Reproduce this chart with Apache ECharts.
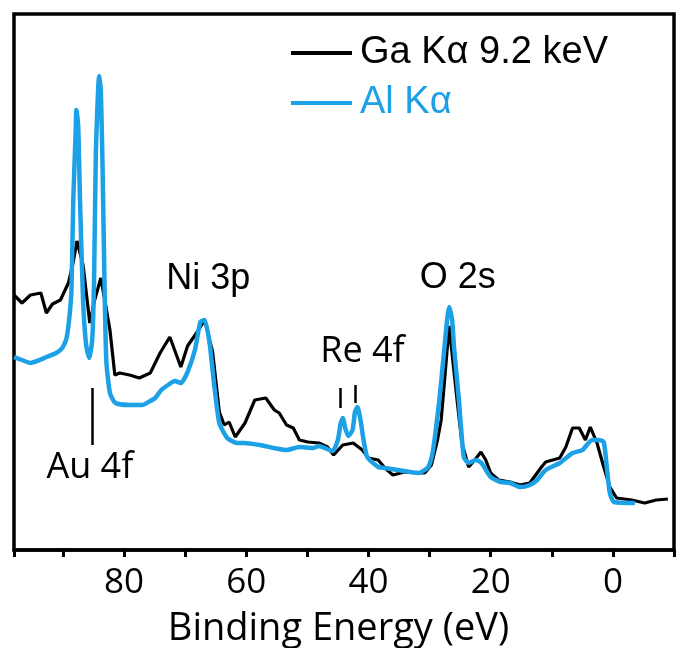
<!DOCTYPE html>
<html>
<head>
<meta charset="utf-8">
<script src="https://cdn.jsdelivr.net/npm/echarts@6/dist/echarts.min.js"></script>
<style>
html,body{margin:0;padding:0;background:#fff;}
#chart{width:677px;height:648px;}
</style>
</head>
<body>
<div id="chart"></div>
<script>
// Binding energy (eV) / intensity (a.u.) for Ga Kα 9.2 keV
const gaEnergy = [98.0,96.7,95.3,93.6,92.7,91.7,90.4,89.1,88.3,87.7,86.7,85.6,84.8,83.8,83.0,82.3,81.5,80.7,79.1,77.5,75.7,74.1,72.5,70.7,69.6,67.8,66.8,65.5,64.4,63.6,62.8,61.8,60.2,58.6,56.8,55.4,54.6,53.4,52.3,51.3,49.9,48.1,46.7,45.7,44.2,42.5,41.0,40.0,38.4,37.3,36.0,34.1,30.8,29.7,28.7,28.1,27.4,26.8,26.2,25.5,24.7,23.6,22.6,21.6,20.8,20.0,18.7,16.8,15.2,13.6,11.8,11.0,8.7,7.7,6.6,5.5,4.5,3.7,2.6,1.5,0.5,-0.6,-3.1,-5.2,-7.1,-9.0];
const gaIntensity = [255,247,255,257,237,246,250,267,288,309,285,227,250,272,245,220,175,177,175,172,177,197,213,183,204,220,230,198,138,125,128,113,127,150,152,140,137,125,122,110,108,107,103,95,105,107,100,92,90,82,75,78,77,85,110,130,180,224,190,150,107,83,90,98,90,77,70,68,65,67,82,88,92,103,122,122,110,123,107,83,63,52,50,47,50,51];

// Binding energy (eV) / intensity (a.u.) for Al Kα
const alEnergy = [98.0,96.7,95.3,93.8,92.7,91.1,90.1,89.4,88.9,88.6,88.3,87.9,87.8,87.5,87.2,86.7,86.2,85.7,85.2,84.9,84.6,84.2,84.1,83.8,83.5,83.2,82.9,82.3,81.4,79.1,77.0,76.0,74.9,73.9,72.8,71.7,70.7,69.6,68.4,67.5,66.8,66.0,65.2,64.4,63.1,61.5,60.4,57.8,55.5,53.4,51.3,49.1,48.1,45.9,45.0,44.6,44.2,43.8,43.3,42.6,42.2,41.8,41.3,40.8,40.2,38.4,37.3,35.2,31.8,30.2,29.5,28.4,27.6,27.1,26.8,26.3,26.0,25.2,24.4,23.6,22.4,21.5,20.0,18.4,16.8,15.2,13.6,12.4,11.0,8.7,6.6,5.0,3.4,2.3,1.5,1.0,0.5,-0.2,-3.6];
const alIntensity = [193,190,187,190,193,197,202,212,235,260,350,420,440,425,350,250,205,192,210,270,400,465,474,460,380,270,190,157,147,145,145,148,152,160,165,169,167,178,200,228,230,207,163,127,112,107,107,105,102,100,103,102,104,99,110,125,132,122,114,120,138,143,130,110,93,83,82,80,77,83,97,150,200,232,243,230,203,150,93,87,90,87,73,68,67,63,65,70,80,87,97,100,110,110,108,83,57,48,47];

const seriesNames = ['Ga K\u03b1 9.2 keV', 'Al K\u03b1'];
const xTicks = [80, 60, 40, 20, 0];

// peak annotations: [label, energy, intensity]
const peakLabels = [['Ni 3p', 73.1, 271], ['O 2s', 31.6, 272], ['Re 4f', 47.9, 198], ['Au 4f', 92.7, 82]];
// marker ticks: [energy, intensity from, intensity to]
const markers = [[85.2, 162, 105], [44.6, 162, 142], [42.2, 165, 147]];

const BLUE = '#1ca0e6';
const pair = (xs, ys) => xs.map((x, i) => [x, ys[i]]);

const chart = echarts.init(document.getElementById('chart'), null, {renderer: 'canvas'});
chart.setOption({
  animation: false,
  backgroundColor: '#fff',
  grid: {left: 14, top: 14, right: -6, bottom: 98, show: true, borderColor: '#000', borderWidth: 3.5},
  legend: {
    orient: 'vertical', left: 286, top: 28, itemGap: 10,
    icon: 'rect', itemWidth: 61, itemHeight: 4,
    textStyle: {fontFamily: 'Liberation Sans', fontSize: 38, lineHeight: 40, padding: [0, 0, 0, 3]},
    data: [
      {name: seriesNames[0], textStyle: {color: '#000'}},
      {name: seriesNames[1], textStyle: {color: BLUE}}
    ]
  },
  xAxis: {
    type: 'value', inverse: true, min: -10, max: 98, interval: 10,
    axisLine: {lineStyle: {color: '#000', width: 3.5}},
    axisTick: {length: 7, lineStyle: {color: '#000', width: 3}},
    axisLabel: {
      formatter: v => (xTicks.indexOf(v) >= 0 ? String(v) : ''),
      color: '#000', fontFamily: 'Open Sans', fontSize: 35, margin: 16
    },
    splitLine: {show: false}
  },
  yAxis: {type: 'value', min: 0, max: 536, show: false},
  series: [
    {
      name: seriesNames[0], type: 'line', data: pair(gaEnergy, gaIntensity),
      showSymbol: false, color: '#000', lineStyle: {width: 3.2, color: '#000'}, z: 2,
      markLine: {
        silent: true, symbol: ['none', 'none'], label: {show: false},
        lineStyle: {color: '#000', width: 2.5, type: 'solid'},
        data: markers.map(m => [{coord: [m[0], m[1]]}, {coord: [m[0], m[2]]}])
      }
    },
    {
      name: seriesNames[1], type: 'line', data: pair(alEnergy, alIntensity),
      showSymbol: false, smooth: 0.2, color: BLUE, lineStyle: {width: 4.5, color: BLUE}, z: 3
    }
  ]
});

const extra = peakLabels.map(p => {
  const pt = chart.convertToPixel({gridIndex: 0}, [p[1], p[2]]);
  const calibri = p[0].indexOf('4f') >= 0;
  return {
    type: 'text', x: pt[0], y: pt[1],
    style: {
      text: p[0], fill: '#000',
      font: calibri ? '36px "Open Sans"' : '36px "Liberation Sans"',
      textVerticalAlign: 'middle', verticalAlign: 'middle'
    }
  };
});
chart.setOption({graphic: [{
  type: 'text', left: 'center', top: 610,
  style: {text: 'Binding Energy (eV)', font: '38px "Open Sans"', fill: '#000'}
}].concat(extra)});
</script>
</body>
</html>
